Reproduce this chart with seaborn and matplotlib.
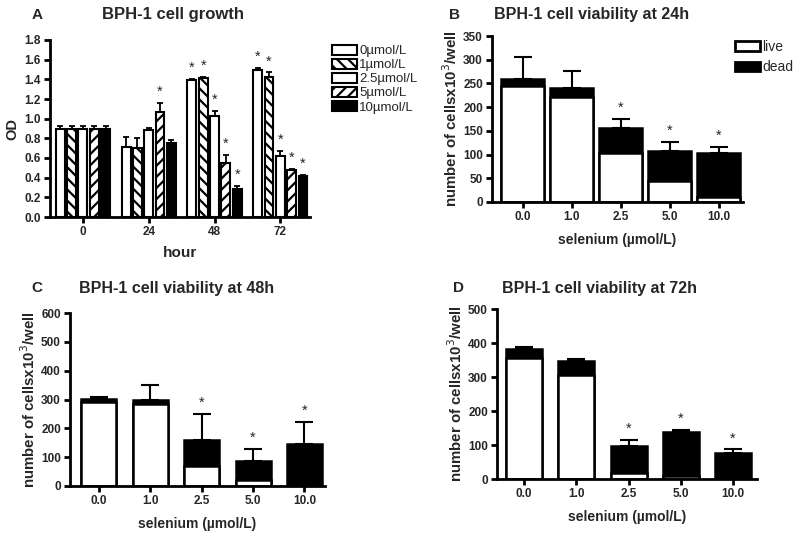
"""
BPH-1 cell growth and viability under selenium treatment (4 panels)
"""

import numpy as np
import pandas as pd
import matplotlib
matplotlib.use("Agg")
import matplotlib.pyplot as plt
from matplotlib.patches import Patch
import seaborn as sns

# ---- panel A data: OD by hour and selenium dose
hours = ["0", "24", "48", "72"]
doses = ["0µmol/L", "1µmol/L", "2.5µmol/L", "5µmol/L", "10µmol/L"]
od_0 = [0.90, 0.71, 1.39, 1.50]
od_1 = [0.90, 0.70, 1.41, 1.42]
od_25 = [0.90, 0.88, 1.03, 0.62]
od_5 = [0.90, 1.07, 0.55, 0.48]
od_10 = [0.90, 0.75, 0.28, 0.42]
od_err_0 = [0.03, 0.10, 0.01, 0.02]
od_err_1 = [0.03, 0.10, 0.01, 0.05]
od_err_25 = [0.03, 0.03, 0.05, 0.05]
od_err_5 = [0.03, 0.09, 0.08, 0.01]
od_err_10 = [0.03, 0.03, 0.04, 0.01]
# significance marks (1 = star) per dose, per hour
star_0 = [0, 0, 1, 1]
star_1 = [0, 0, 1, 1]
star_25 = [0, 0, 1, 1]
star_5 = [0, 1, 1, 1]
star_10 = [0, 0, 1, 1]

# ---- panels B-D: cell counts (x10^3/well)
conc = ["0.0", "1.0", "2.5", "5.0", "10.0"]
total_24 = [260, 240, 157, 108, 103]
live_24 = [245, 222, 103, 45, 10]
err_24 = [45, 37, 18, 19, 14]
total_48 = [303, 300, 160, 88, 147]
live_48 = [290, 283, 70, 20, 0]
err_48 = [7, 52, 90, 39, 75]
total_72 = [383, 347, 98, 137, 77]
live_72 = [357, 305, 18, 10, 0]
err_72 = [4, 6, 16, 8, 10]
stars_cnt = [0, 0, 1, 1, 1]

sns.set_style("white")
plt.rcParams["font.family"] = ["Liberation Sans", "DejaVu Sans"]
plt.rcParams["hatch.linewidth"] = 1.6

fig = plt.figure(figsize=(8, 5.36), dpi=100)


def prism_axes(ax, ymax, yticks):
    sns.despine(ax=ax)
    for s in ("left", "bottom"):
        ax.spines[s].set_linewidth(2)
        ax.spines[s].set_color("black")
    ax.set_ylim(0, ymax)
    ax.set_yticks(yticks)
    ax.tick_params(axis="both", direction="out", length=4, width=2, color="black",
                   labelsize=8.5, pad=2.5, left=True, bottom=True)
    for lab in ax.get_xticklabels() + ax.get_yticklabels():
        lab.set_fontweight("bold")


# ---------------- panel A
axA = fig.add_axes([50 / 800, 1 - 217 / 536, 260 / 800, 177 / 536])
dfA = pd.DataFrame({
    "hour": hours * 5,
    "dose": np.repeat(doses, 4),
    "od": od_0 + od_1 + od_25 + od_5 + od_10,
})
pal = {d: ("black" if d == "10µmol/L" else "white") for d in doses}
sns.barplot(data=dfA, x="hour", y="od", hue="dose", palette=pal, saturation=1,
            width=0.86, gap=0.22, edgecolor="black", linewidth=1.5, legend=False, ax=axA)
hatches = ["", "\\\\\\", "", "///", ""]
errs = [od_err_0, od_err_1, od_err_25, od_err_5, od_err_10]
stars = [star_0, star_1, star_25, star_5, star_10]
for cont, h, e, st in zip(axA.containers, hatches, errs, stars):
    xs = [p.get_x() + p.get_width() / 2 for p in cont]
    ys = [p.get_height() for p in cont]
    for p in cont:
        p.set_hatch(h)
    axA.errorbar(xs, ys, yerr=[np.zeros(len(e)), e], fmt="none", ecolor="black",
                 elinewidth=1.3, capsize=2.5, capthick=1.3)
    for x, y, ee, s in zip(xs, ys, e, st):
        if s:
            axA.annotate("*", (x, y + ee), xytext=(0, 8), textcoords="offset points",
                         ha="center", va="center", fontsize=10.5)
axA.set_xlim(-0.5, 3.45)
prism_axes(axA, 1.8, np.arange(0, 1.81, 0.2))
axA.set_yticklabels([f"{v:.1f}" for v in np.arange(0, 1.81, 0.2)], fontweight="bold")
axA.set_xlabel("hour", fontsize=11, fontweight="bold", labelpad=6)
axA.set_ylabel("OD", fontsize=10.5, fontweight="bold", labelpad=4)

handles = [Patch(facecolor=pal[d], edgecolor="black", hatch=h, linewidth=1.5)
           for d, h in zip(doses, hatches)]
fig.legend(handles, doses, loc="upper left", bbox_to_anchor=(332 / 800, 1 - 45 / 536),
           frameon=False, fontsize=9.5, handlelength=1.9, handleheight=0.75,
           handletextpad=0.15, labelspacing=0.12, borderpad=0, borderaxespad=0)


# ---------------- panels B-D
def viability(rect, total, live, err, ymax, yticks, width, xlim, legend=False):
    ax = fig.add_axes(rect)
    sns.barplot(x=conc, y=total, color="black", saturation=1, edgecolor="black",
                linewidth=1.8, width=width, ax=ax)
    sns.barplot(x=conc, y=live, color="white", saturation=1, edgecolor="black",
                linewidth=1.8, width=width, ax=ax)
    xs = np.arange(len(conc))
    ax.errorbar(xs, total, yerr=[np.zeros(len(err)), err], fmt="none", ecolor="black",
                elinewidth=1.5, capsize=6.5, capthick=1.5, zorder=0.5)
    for x, t, e, s in zip(xs, total, err, stars_cnt):
        if s:
            ax.annotate("*", (x, t + e), xytext=(0, 8), textcoords="offset points",
                        ha="center", va="center", fontsize=10.5)
    ax.set_xlim(*xlim)
    prism_axes(ax, ymax, yticks)
    ax.set_xlabel("selenium (µmol/L)", fontsize=10, fontweight="bold", labelpad=7)
    ax.set_ylabel("number of cellsx10$^{3}$/well", fontsize=10.8, fontweight="bold",
                  labelpad=2)
    if legend:
        h = [Patch(facecolor="white", edgecolor="black", linewidth=2),
             Patch(facecolor="black", edgecolor="black", linewidth=2)]
        fig.legend(h, ["live", "dead"], loc="upper left",
                   bbox_to_anchor=(735 / 800, 1 - 40 / 536), frameon=False, fontsize=10,
                   handlelength=1.8, handleheight=0.65, handletextpad=0.15,
                   labelspacing=0.45, borderpad=0, borderaxespad=0)
    return ax


viability([492 / 800, 1 - 202 / 536, 251 / 800, 166 / 536], total_24, live_24, err_24,
          350, np.arange(0, 351, 50), 0.88, (-0.63, 4.5), legend=True)
viability([70 / 800, 1 - 486 / 536, 255 / 800, 173 / 536], total_48, live_48, err_48,
          600, np.arange(0, 601, 100), 0.68, (-0.56, 4.4))
viability([497 / 800, 1 - 479 / 536, 260 / 800, 170 / 536], total_72, live_72, err_72,
          500, np.arange(0, 501, 100), 0.69, (-0.52, 4.46))

# ---------------- titles and panel letters
title_kw = dict(fontweight="bold", ha="center", va="center")
fig.text(173 / 800, 1 - 15 / 536, "BPH-1 cell growth", fontsize=12, **title_kw)
fig.text(592 / 800, 1 - 15 / 536, "BPH-1 cell viability at 24h", fontsize=11.5, **title_kw)
fig.text(177 / 800, 1 - 288 / 536, "BPH-1 cell viability at 48h", fontsize=11.5, **title_kw)
fig.text(600 / 800, 1 - 288 / 536, "BPH-1 cell viability at 72h", fontsize=11.5, **title_kw)
letter_kw = dict(fontsize=11, fontweight="bold", ha="center", va="center")
fig.text(37 / 800, 1 - 15 / 536, "A", **letter_kw)
fig.text(455 / 800, 1 - 15 / 536, "B", **letter_kw)
fig.text(37 / 800, 1 - 288 / 536, "C", **letter_kw)
fig.text(458 / 800, 1 - 288 / 536, "D", **letter_kw)

fig.savefig("out.png", dpi=100, facecolor="white")
